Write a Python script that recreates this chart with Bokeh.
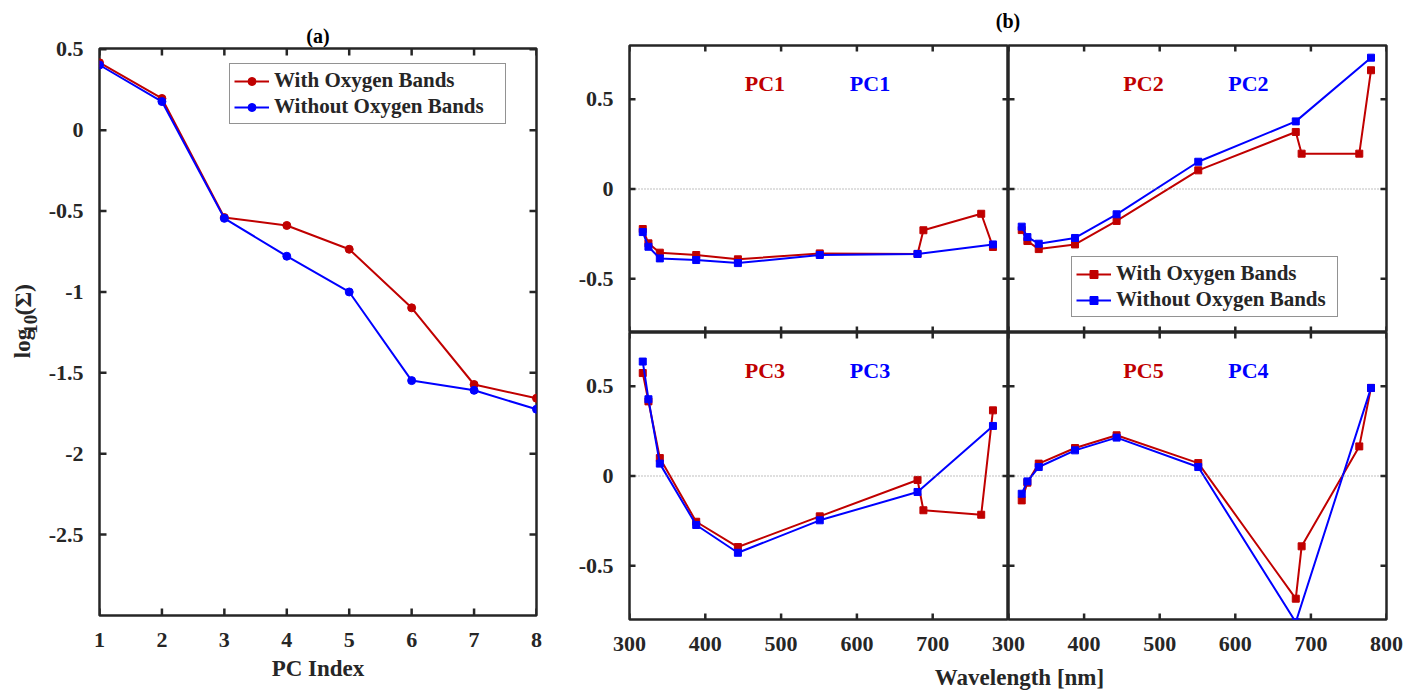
import math

from bokeh.plotting import figure
from bokeh.models import Range1d, FixedTicker, Span, Label, BoxAnnotation
from bokeh.layouts import row, column
from bokeh.embed import file_html
from bokeh.resources import INLINE

# ---------------- data ----------------
# (a) singular values of the PCA decomposition
pc_index = [1, 2, 3, 4, 5, 6, 7, 8]
log_sigma_with_o2 = [0.417, 0.196, -0.540, -0.589, -0.736, -1.098, -1.572, -1.657]
log_sigma_without_o2 = [0.403, 0.177, -0.545, -0.779, -1.000, -1.548, -1.608, -1.725]

# (b) principal component loadings per spectral channel
wavelength_with_o2 = [317.5, 325.0, 340.0, 388.0, 443.0, 551.0, 680.0, 687.75, 764.0, 779.5]
wavelength_without_o2 = [317.5, 325.0, 340.0, 388.0, 443.0, 551.0, 680.0, 779.5]

pc1_with_o2 = [-0.223, -0.303, -0.355, -0.368, -0.392, -0.359, -0.362, -0.230, -0.138, -0.323]
pc1_without_o2 = [-0.240, -0.322, -0.387, -0.396, -0.413, -0.368, -0.362, -0.309]
pc2_with_o2 = [-0.229, -0.290, -0.335, -0.309, -0.178, 0.104, 0.318, 0.197, 0.197, 0.662]
pc2_without_o2 = [-0.210, -0.268, -0.305, -0.273, -0.141, 0.152, 0.377, 0.732]
pc3_with_o2 = [0.574, 0.416, 0.100, -0.255, -0.396, -0.225, -0.022, -0.191, -0.216, 0.366]
pc3_without_o2 = [0.638, 0.428, 0.069, -0.273, -0.428, -0.247, -0.089, 0.279]
pc5_with_o2 = [-0.136, -0.037, 0.069, 0.156, 0.227, 0.072, -0.684, -0.392, 0.165, 0.491]
pc4_without_o2 = [-0.099, -0.030, 0.050, 0.143, 0.214, 0.050, -0.815, 0.491]

series_names = ["With Oxygen Bands", "Without Oxygen Bands"]
pc_ticks = [1, 2, 3, 4, 5, 6, 7, 8]
sigma_ticks = [-2.5, -2.0, -1.5, -1.0, -0.5, 0.0, 0.5]
sigma_tick_labels = {-2.5: "-2.5", -2.0: "-2", -1.5: "-1.5", -1.0: "-1", -0.5: "-0.5", 0.0: "0", 0.5: "0.5"}
wl_ticks = [300, 400, 500, 600, 700, 800]
load_ticks = [-0.5, 0.0, 0.5]
load_tick_labels = {-0.5: "-0.5", 0.0: "0", 0.5: "0.5"}

# ---------------- style ----------------
RED = "#C00000"
BLUE = "#0000FF"
INK = "#262626"
FONT = "Liberation Serif"

A_FRAME = (437, 567)   # frame size of panel (a), px
B_FRAME = (378, 287)   # frame size of each PC panel, px


def style_axis(ax, ticks, overrides=None, standoff=10):
    ax.ticker = FixedTicker(ticks=ticks)
    ax.major_tick_in = 0
    ax.major_tick_out = 0
    ax.minor_tick_in = 0
    ax.minor_tick_out = 0
    ax.axis_line_color = None
    ax.major_tick_line_color = None
    ax.major_label_text_font = FONT
    ax.major_label_text_font_style = "bold"
    ax.major_label_text_font_size = "22px"
    ax.major_label_text_color = INK
    ax.major_label_standoff = standoff
    if overrides:
        ax.major_label_overrides = overrides


def box_ticks(p, xticks, yticks, tick_len, frame_size, tick_w=2.5):
    """Inward tick marks on all four edges of the box, as small filled boxes."""
    xr, yr = p.x_range, p.y_range
    ux = (xr.end - xr.start) / frame_size[0]   # data units per px
    uy = (yr.end - yr.start) / frame_size[1]
    hw_x, hw_y = tick_w / 2 * ux, tick_w / 2 * uy
    marks = []
    for t in xticks:
        marks.append((t - hw_x, t + hw_x, yr.end - tick_len * uy, yr.end))
        marks.append((t - hw_x, t + hw_x, yr.start, yr.start + tick_len * uy))
    for t in yticks:
        marks.append((xr.start, xr.start + tick_len * ux, t - hw_y, t + hw_y))
        marks.append((xr.end - tick_len * ux, xr.end, t - hw_y, t + hw_y))
    for left, right, bottom, top in marks:
        p.add_layout(BoxAnnotation(left=left, right=right, bottom=bottom, top=top,
                                   fill_color=INK, fill_alpha=1.0, line_color=None,
                                   level="overlay"))


def frame_style(p):
    p.xgrid.visible = False
    p.ygrid.visible = False
    p.outline_line_color = INK
    p.outline_line_width = 2.5
    p.background_fill_color = "white"


def style_legend(lg, loc, label_width):
    lg.location = loc
    lg.label_text_font = FONT
    lg.label_text_font_style = "bold"
    lg.label_text_font_size = "21px"
    lg.label_text_color = INK
    lg.glyph_width = 35
    lg.glyph_height = 20
    lg.label_height = 20
    lg.label_width = label_width
    lg.label_standoff = 5
    lg.spacing = 1
    lg.padding = 4
    lg.margin = 0
    lg.border_line_color = INK
    lg.border_line_width = 1.5
    lg.background_fill_color = "white"
    lg.background_fill_alpha = 1.0


def text_strip(width, height, pieces):
    """A bare canvas (pixel coordinates, origin bottom-left) that only carries text."""
    s = figure(width=width, height=height, x_range=Range1d(0, width), y_range=Range1d(0, height),
               output_backend="svg", toolbar_location=None,
               x_axis_location=None, y_axis_location=None, min_border=0)
    s.xgrid.visible = False
    s.ygrid.visible = False
    s.outline_line_color = None
    for text, x, y, size, color, angle, align in pieces:
        s.add_layout(Label(x=x, y=y, text=text, text_align=align, text_baseline="middle",
                           angle=angle, text_font=FONT, text_font_style="bold",
                           text_font_size=size, text_color=color))
    return s


# ---------------- (a) singular values ----------------
fa = figure(width=516, height=692, x_range=Range1d(1, 8), y_range=Range1d(-3, 0.505),
            output_backend="svg", toolbar_location=None,
            min_border_left=55, min_border_right=24, min_border_top=48, min_border_bottom=77)
frame_style(fa)
fa.title.text = "(a)"
fa.title.align = "center"
fa.title.text_font = FONT
fa.title.text_font_style = "bold"
fa.title.text_font_size = "20px"
fa.title.text_color = "black"
fa.title.standoff = 3

xax_a = fa.below[0]
style_axis(xax_a, pc_ticks, standoff=17)
style_axis(fa.left[0], sigma_ticks, sigma_tick_labels, standoff=16)
box_ticks(fa, pc_ticks, sigma_ticks, 7, A_FRAME)

xax_a.axis_label = "PC Index"
xax_a.axis_label_text_font = FONT
xax_a.axis_label_text_font_style = "bold"
xax_a.axis_label_text_font_size = "23px"
xax_a.axis_label_text_color = INK
xax_a.axis_label_standoff = 6

for vals, color, name in ((log_sigma_with_o2, RED, series_names[0]),
                          (log_sigma_without_o2, BLUE, series_names[1])):
    fa.line(pc_index, vals, line_color=color, line_width=2, legend_label=name)
    fa.scatter(pc_index, vals, marker="circle", size=8, fill_color=color,
               line_color=color, legend_label=name)

style_legend(fa.legend[0], (130, 491), 227)

# y label of (a): log with a lowered 10 subscript, reading bottom to top
up = math.pi / 2
ylabel_a = text_strip(44, 692, [
    ("log", 22, 692 - 378, "23px", INK, up, "left"),
    ("10", 30, 692 - 348, "19px", INK, up, "left"),
    ("(\u03a3)", 22, 692 - 326, "24px", INK, up, "left"),
])


# ---------------- (b) principal components ----------------
def make_panel(with_vals, without_vals, red_name, blue_name, width, height, borders,
               show_x, show_y, x_overrides=None):
    left, right, top, bottom = borders
    p = figure(width=width, height=height, x_range=Range1d(300, 800), y_range=Range1d(-0.8, 0.8),
               output_backend="svg", toolbar_location=None,
               x_axis_location="below" if show_x else None,
               y_axis_location="left" if show_y else None,
               min_border_left=left, min_border_right=right,
               min_border_top=top, min_border_bottom=bottom)
    frame_style(p)
    if show_x:
        style_axis(p.below[0], wl_ticks, x_overrides, standoff=17)
    if show_y:
        style_axis(p.left[0], load_ticks, load_tick_labels, standoff=16)
    box_ticks(p, wl_ticks, load_ticks, 6, B_FRAME)

    p.add_layout(Span(location=0, dimension="width", line_color="#7f7f7f",
                      line_width=1, line_dash="1 2"))

    p.line(wavelength_with_o2, with_vals, line_color=RED, line_width=2,
           legend_label=series_names[0])
    p.scatter(wavelength_with_o2, with_vals, marker="square", size=7,
              fill_color=RED, line_color=RED, legend_label=series_names[0])
    p.line(wavelength_without_o2, without_vals, line_color=BLUE, line_width=2,
           legend_label=series_names[1])
    p.scatter(wavelength_without_o2, without_vals, marker="square", size=7,
              fill_color=BLUE, line_color=BLUE, legend_label=series_names[1])

    for name, color, xpos in ((red_name, RED, 478.6), (blue_name, BLUE, 617.3)):
        p.add_layout(Label(x=xpos, y=0.59, text=name, text_align="center",
                           text_baseline="middle", text_font=FONT, text_font_style="bold",
                           text_font_size="22px", text_color=color))
    return p


p1 = make_panel(pc1_with_o2, pc1_without_o2, "PC1", "PC1", 448, 289, (69, 0, 2, 0),
                False, True)
p2 = make_panel(pc2_with_o2, pc2_without_o2, "PC2", "PC2", 411, 289, (0, 33, 2, 0),
                False, False)
p3 = make_panel(pc3_with_o2, pc3_without_o2, "PC3", "PC3", 448, 331, (69, 0, 0, 44),
                True, True, {800: ""})
p4 = make_panel(pc5_with_o2, pc4_without_o2, "PC5", "PC4", 431, 331, (20, 33, 0, 44),
                True, False)
# the right-hand panel reaches back under its neighbour so the shared "300" label fits
p4.border_fill_color = None
p4.margin = (0, 0, 0, -20)

p1.legend[0].visible = False
p3.legend[0].visible = False
p4.legend[0].visible = False
style_legend(p2.legend[0], (63, 15), 217)

title_b = text_strip(859, 43, [("(b)", 447.5, 23, "20px", "black", 0, "center")])
xlabel_b = text_strip(859, 29, [("Wavelength [nm]", 459, 15, "23px", INK, 0, "center")])

panel_a = row(ylabel_a, fa)
panel_b = column(title_b, row(p1, p2), row(p3, p4), xlabel_b)
layout = row(panel_a, panel_b)

open("out.html", "w").write(file_html(layout, INLINE))
